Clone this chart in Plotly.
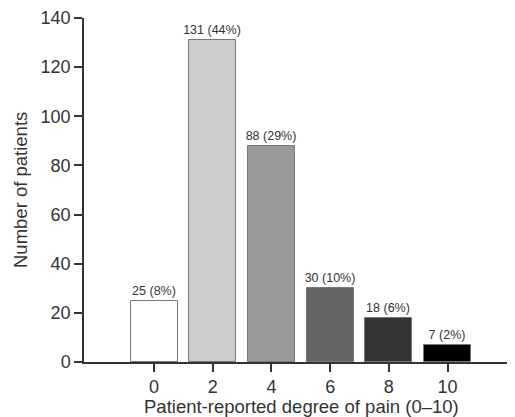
import plotly.graph_objects as go

pain_levels = [0, 2, 4, 6, 8, 10]
patients = [25, 131, 88, 30, 18, 7]
bar_labels = ["25 (8%)", "131 (44%)", "88 (29%)", "30 (10%)", "18 (6%)", "7 (2%)"]
bar_colors = ["#ffffff", "#cccccc", "#999999", "#666666", "#333333", "#000000"]
y_ticks = [0, 20, 40, 60, 80, 100, 120, 140]

FONT = "Liberation Sans, Arial, sans-serif"

fig = go.Figure()
fig.add_trace(go.Bar(
    x=pain_levels, y=patients, width=1.6,
    marker=dict(color=bar_colors, line=dict(color="#777777", width=1)),
    text=bar_labels, textposition="outside", constraintext="none",
    textfont=dict(size=12.5, color="#333333", family=FONT),
    cliponaxis=False,
))

# The page body has an 8px margin, so the figure is drawn 8px in from the top-left.
fig.update_layout(
    width=507, height=409,
    margin=dict(l=76, r=0, t=10, b=55),
    plot_bgcolor="white", paper_bgcolor="white",
    font=dict(family=FONT, size=18, color="#333333"),
    showlegend=False,
    bargap=0,
    annotations=[
        dict(text="Patient-reported degree of pain (0–10)", xref="paper", yref="paper",
             x=0.5, y=0, yshift=-44, xshift=2, xanchor="center", yanchor="middle",
             showarrow=False, font=dict(size=18.5, family=FONT, color="#333333")),
        dict(text="Number of patients", xref="paper", yref="paper",
             x=0, y=0.5, xshift=-64, xanchor="center", yanchor="middle",
             textangle=-90, showarrow=False,
             font=dict(size=18.5, family=FONT, color="#333333")),
    ],
)
fig.update_xaxes(
    range=[-2.39, 12.3], tickvals=pain_levels, ticktext=[str(v) for v in pain_levels],
    showline=True, linecolor="#333333", linewidth=1.5,
    ticks="outside", ticklen=8, tickwidth=1.5, tickcolor="#333333",
    showgrid=False, zeroline=False, automargin=False,
    tickfont=dict(size=18),
)
fig.update_yaxes(
    range=[0, 140], tickvals=y_ticks,
    showline=True, linecolor="#333333", linewidth=1.5,
    ticks="outside", ticklen=8, tickwidth=1.5, tickcolor="#333333",
    showgrid=False, zeroline=False, automargin=False,
    tickfont=dict(size=18),
)

fig.write_html("out.html")
